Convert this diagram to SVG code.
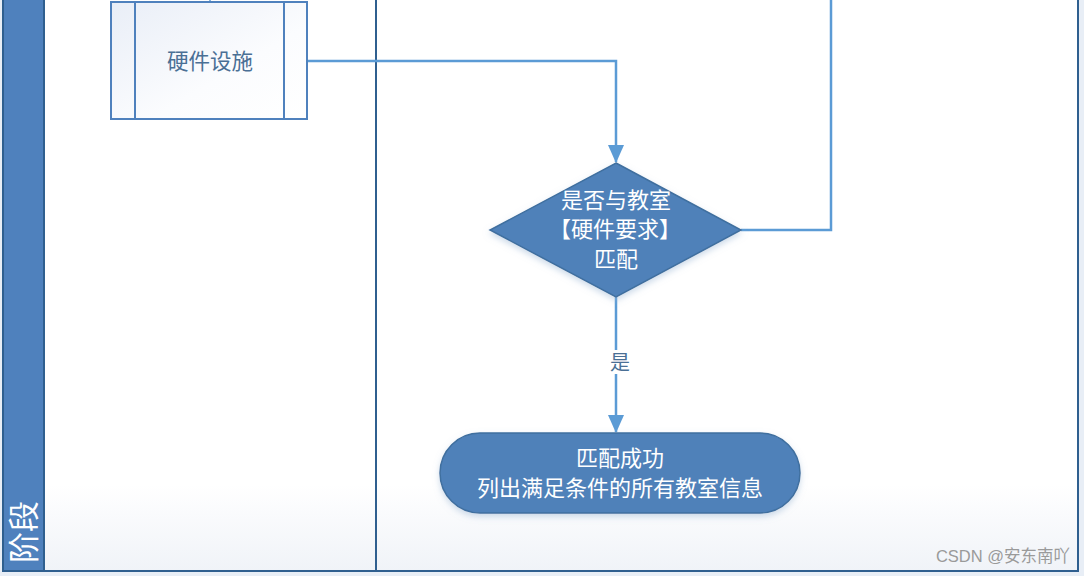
<svg xmlns="http://www.w3.org/2000/svg" width="1084" height="576" viewBox="0 0 1084 576">
<defs>
<style>
.cn{font-family:"Liberation Sans","Noto Sans CJK SC",sans-serif}
.conn{fill:none;stroke:#5b9bd5;stroke-width:2.5}
.lane{stroke:#2f5f8f;stroke-width:2;fill:url(#laneg)}
.wt{fill:#ffffff;font-size:22px;text-anchor:middle}
</style>
<linearGradient id="laneg" x1="0" y1="0" x2="0" y2="1">
<stop offset="0" stop-color="#ffffff"/>
<stop offset="0.85" stop-color="#ffffff"/>
<stop offset="1" stop-color="#f0f3f8"/>
</linearGradient>
<linearGradient id="boxg" x1="0" y1="0" x2="1" y2="1">
<stop offset="0" stop-color="#e9eef7"/>
<stop offset="0.6" stop-color="#fbfcfe"/>
<stop offset="1" stop-color="#ffffff"/>
</linearGradient>
<marker id="arrb" viewBox="0 0 18 18" markerWidth="18" markerHeight="18" refX="17" refY="9" orient="auto" markerUnits="userSpaceOnUse">
<path d="M0,1 L18,9 L0,17 Z" fill="#5b9bd5"/>
</marker>
<filter id="sh" x="-10%" y="-10%" width="120%" height="130%">
<feDropShadow dx="0" dy="3" stdDeviation="3" flood-color="#9bb6d4" flood-opacity="0.5"/>
</filter>
</defs>
<rect x="0" y="0" width="1084" height="576" fill="#e8eef6"/>
<g id="lanes">
<rect class="lane" x="3" y="-5" width="1075" height="576"/>
<line x1="376" y1="-5" x2="376" y2="571" stroke="#2f5f8f" stroke-width="2"/>
<rect x="3" y="-5" width="41" height="576" fill="#4f81bd" stroke="#2f5f8f" stroke-width="2"/>
<text class="cn" transform="translate(35,532) rotate(-90)" font-size="31" fill="#ffffff" text-anchor="middle">阶段</text>
</g>
<g id="connectors">
<line x1="210" y1="0" x2="210" y2="2" stroke="#5b9bd5" stroke-width="1.5"/>
<polyline class="conn" points="307,61 616,61 616,162" marker-end="url(#arrb)"/>
<polyline class="conn" points="741,230 831,230 831,0"/>
<polyline class="conn" points="616,297 616,432" marker-end="url(#arrb)"/>
<rect x="606" y="350" width="24" height="24" fill="#ffffff"/>
<text class="cn" x="620" y="370" font-size="20" fill="#4a6f95" text-anchor="middle">是</text>
</g>
<g id="hardware">
<rect x="111" y="2" width="196" height="117" fill="url(#boxg)" stroke="#4f81bd" stroke-width="2"/>
<line x1="135" y1="2" x2="135" y2="119" stroke="#4f81bd" stroke-width="2"/>
<line x1="284" y1="2" x2="284" y2="119" stroke="#4f81bd" stroke-width="2"/>
<text class="cn" x="210" y="69" font-size="21.5" fill="#4a6f95" text-anchor="middle">硬件设施</text>
</g>
<g id="decision">
<polygon points="616,163 741,230 616,297 490,230" fill="#4f81b9" stroke="#3f6f9f" stroke-width="1.5" filter="url(#sh)"/>
<text class="cn wt" x="616" y="208">是否与教室</text>
<text class="cn wt" x="615" y="237">【硬件要求】</text>
<text class="cn wt" x="616" y="267">匹配</text>
</g>
<g id="result">
<rect x="440" y="433" width="360" height="80" rx="40" ry="40" fill="#4f81b9" stroke="#3f6f9f" stroke-width="1.5" filter="url(#sh)"/>
<text class="cn wt" x="620" y="466">匹配成功</text>
<text class="cn wt" x="620" y="496">列出满足条件的所有教室信息</text>
</g>
<text class="cn" x="1070" y="562" font-size="16.5" fill="#9a9a9a" text-anchor="end">CSDN @安东南吖</text>
</svg>
